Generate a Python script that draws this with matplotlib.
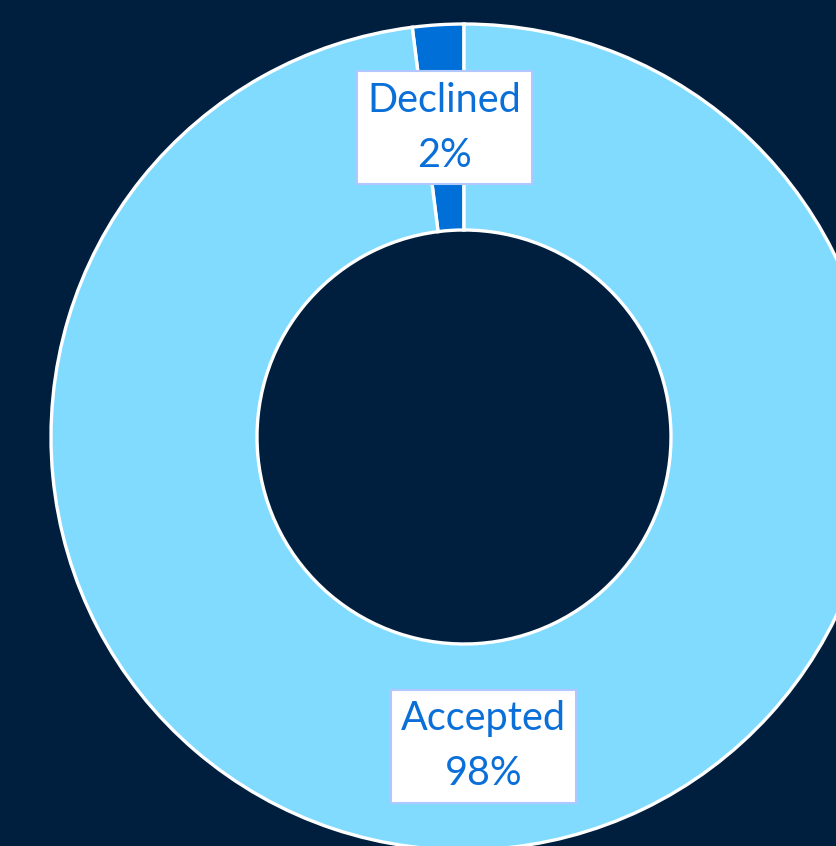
import matplotlib
matplotlib.use('Agg')
import matplotlib.pyplot as plt

# Data
labels = ['Declined', 'Accepted']
values = [2, 98]
colors = ['#0070D8', '#80DBFF']

BG = '#001F3F'
TEXT = '#0A6FD8'

W, H = 837, 846
fig = plt.figure(figsize=(W / 100, H / 100), dpi=100, facecolor=BG)
ax = fig.add_axes([0, 0, 1, 1])
ax.set_facecolor(BG)

R = 413
ring = 206
cx, cy = 464, H - 437

texts = [f'{l}\n{v}%' for l, v in zip(labels, values)]
wedges, txts = ax.pie(values, colors=colors, startangle=90, counterclock=True,
                      center=(cx, cy), radius=R, labels=texts,
                      labeldistance=(R - ring / 2) / R,
                      wedgeprops=dict(width=ring, edgecolor='white', linewidth=2.4))
for t in txts:
    t.set_ha('center')
    t.set_va('center')
    t.set_fontfamily('Lato')
    t.set_fontsize(28.5)
    t.set_color(TEXT)
    t.set_linespacing(1.6)
    t.set_bbox(dict(boxstyle='square,pad=0.26', facecolor='white',
                    edgecolor='#B0C8FF', linewidth=1.5))

ax.set_xlim(0, W)
ax.set_ylim(0, H)
ax.set_aspect('equal')
ax.axis('off')

fig.savefig('out.png', dpi=100, facecolor=BG)
